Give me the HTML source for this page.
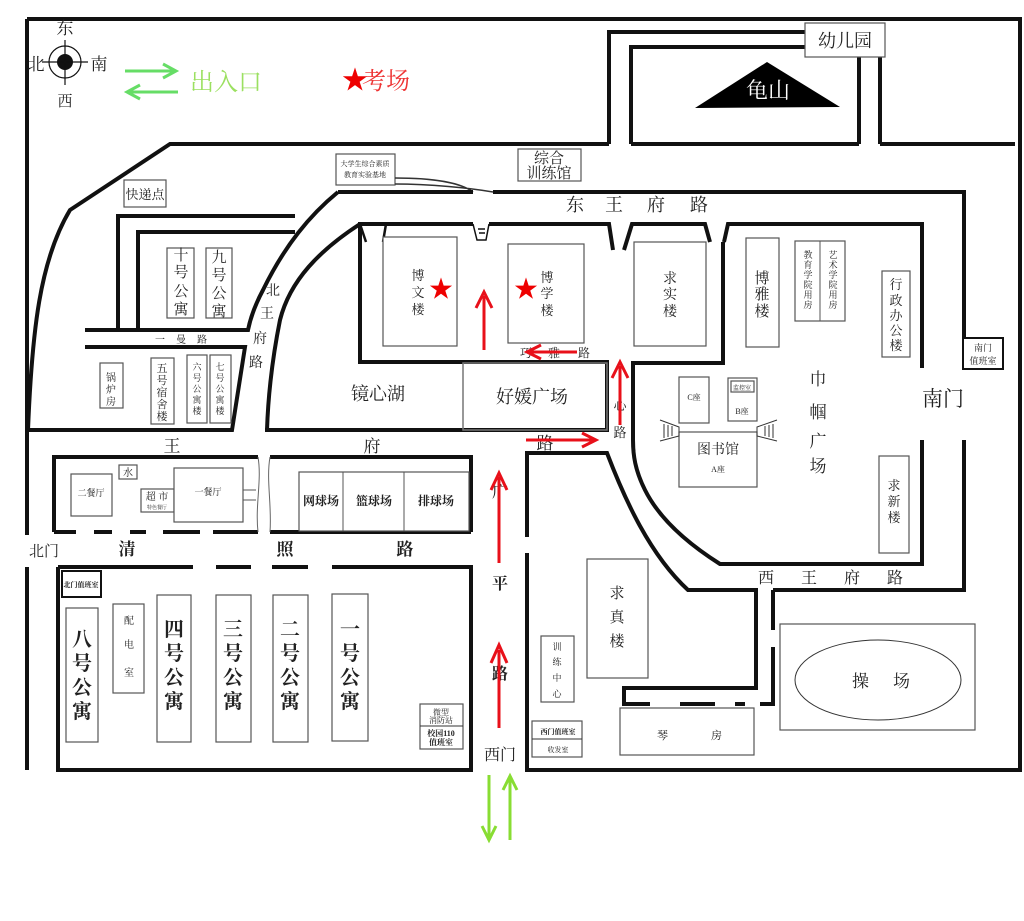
<!DOCTYPE html>
<html><head><meta charset="utf-8"><style>
html,body{margin:0;padding:0;background:#fff;}
svg{display:block;}
text{font-family:"Liberation Serif","Noto Serif CJK SC",serif;fill:#222;}
.t{stroke:#111;stroke-width:4;fill:none;}
.b{stroke:#555;stroke-width:1.2;fill:#fff;}
</style></head><body>
<svg width="1024" height="921" viewBox="0 0 1024 921" xmlns="http://www.w3.org/2000/svg">
<rect width="1024" height="921" fill="#fff"/>
<!-- outer border -->
<path class="t" d="M27 19 H1020 V770 H525 M27 19 V535 M27 567 V770"/>
<!-- compass -->
<circle cx="65" cy="62" r="16" fill="none" stroke="#111" stroke-width="1.2"/>
<circle cx="65" cy="62" r="8" fill="#111"/>
<path d="M42 62 H88 M65 40 V85" stroke="#111" stroke-width="1.2"/>
<text x="65" y="34" font-size="17" text-anchor="middle">东</text>
<text x="65" y="106" font-size="15" text-anchor="middle">西</text>
<text x="36" y="70" font-size="17" text-anchor="middle">北</text>
<text x="99" y="70" font-size="17" text-anchor="middle">南</text>
<!-- legend -->
<g stroke="#66dd66" stroke-width="3" fill="none">
<path d="M125 71 H175 M163 64 L176 71 L163 78"/>
<path d="M178 92 H128 M140 85 L127 92 L140 99"/>
</g>
<text x="190" y="90" font-size="24" fill="#9be060" style="fill:#9be060">出入口</text>
<text x="342" y="89" font-size="26" fill="#e00" style="fill:#e00">★</text>
<text x="362" y="89" font-size="24" style="fill:#e33">考场</text>
<!-- 龟山 region -->
<path class="t" d="M609 144 V32 H806 M631 144 V47 H806 M859 57 V144 M880 57 V144 M631 144 H859 M880 144 H1015"/>
<rect x="805" y="23" width="80" height="34" class="b"/>
<text x="845" y="47" font-size="18" text-anchor="middle">幼儿园</text>
<polygon points="767,62 695,108 840,107" fill="#000"/>
<text x="768" y="98" font-size="22" text-anchor="middle" style="fill:#fff">龟山</text>
<!-- big west loop -->
<path class="t" d="M28 430 C32 330 40 260 70 210 L170 144 H609"/>
<rect x="124" y="180" width="42" height="27" class="b" stroke="#999"/>
<text x="145" y="199" font-size="13" text-anchor="middle">快递点</text>
<rect x="336" y="154" width="59" height="31" class="b"/>
<text x="365" y="166" font-size="7" text-anchor="middle">大学生综合素质</text>
<text x="365" y="177" font-size="7" text-anchor="middle">教育实验基地</text>
<path d="M395 178 C430 178 460 182 473 192 M395 184 C430 184 470 188 493 192" stroke="#333" stroke-width="1.5" fill="none"/>
<rect x="518" y="149" width="63" height="32" class="b"/>
<text x="549" y="163" font-size="15" text-anchor="middle">综合</text>
<text x="549" y="178" font-size="15" text-anchor="middle">训练馆</text>
<!-- east road -->
<path class="t" d="M338 192 H473 M493 192 H964 V368 M964 440 V590 H773 M773 590 V630 M773 647 V704 H760"/>
<text x="566" y="211" font-size="18">东</text>
<text x="605" y="211" font-size="18">王</text>
<text x="647" y="211" font-size="18">府</text>
<text x="690" y="211" font-size="18">路</text>
<path class="t" d="M360 242 L360 224 H473 M489 224 H609 L613 250 M624 250 L632 224 H705 L710 242 M724 242 L728 224 H922 V368 M922 440 V564 H720 C690 545 660 520 645 490 C635 470 633 455 633 440 V363 H723 V242"/>
<path d="M360 224 L366 242 M383 242 L386 224" stroke="#111" stroke-width="2.5"/>
<path d="M473 224 L477 240 H486 L489 224 M478 229 H485 M479 233 H485" stroke="#111" stroke-width="1.5" fill="none"/>
<path class="t" d="M360 224 V362 H607 V430 H265"/>
<!-- 北王府路 curves -->
<path class="t" d="M338 192 C310 215 285 245 263 290 C255 305 250 320 248 330 H85 M85 347 H245 L232 430 H27"/>
<path class="t" d="M360 224 C320 250 290 280 280 320 C272 360 268 400 267 430"/>
<path class="t" d="M118 328 V216 H295 M138 328 V232 H295"/>
<text x="273" y="295" font-size="14" text-anchor="middle">北</text>
<text x="267" y="318" font-size="14" text-anchor="middle">王</text>
<text x="260" y="343" font-size="14" text-anchor="middle">府</text>
<text x="256" y="367" font-size="14" text-anchor="middle">路</text>
<rect x="167" y="248" width="27" height="70" class="b"/>
<text font-size="15" text-anchor="middle"><tspan x="181" y="260">十</tspan><tspan x="181" y="277">号</tspan><tspan x="181" y="296">公</tspan><tspan x="181" y="314">寓</tspan></text>
<rect x="206" y="248" width="26" height="70" class="b"/>
<text font-size="15" text-anchor="middle"><tspan x="219" y="262">九</tspan><tspan x="219" y="280">号</tspan><tspan x="219" y="298">公</tspan><tspan x="219" y="316">寓</tspan></text>
<text y="343" font-size="10"><tspan x="155">一</tspan><tspan x="176">曼</tspan><tspan x="197">路</tspan></text>
<rect x="100" y="363" width="23" height="45" class="b"/>
<text font-size="10" text-anchor="middle"><tspan x="111" y="381">锅</tspan><tspan x="111" y="393">炉</tspan><tspan x="111" y="405">房</tspan></text>
<rect x="151" y="358" width="23" height="66" class="b"/>
<text font-size="11" text-anchor="middle"><tspan x="162" y="372">五</tspan><tspan x="162" y="384">号</tspan><tspan x="162" y="396">宿</tspan><tspan x="162" y="408">舍</tspan><tspan x="162" y="420">楼</tspan></text>
<rect x="187" y="355" width="20" height="68" class="b"/>
<text font-size="9" text-anchor="middle"><tspan x="197" y="370">六</tspan><tspan x="197" y="381">号</tspan><tspan x="197" y="392">公</tspan><tspan x="197" y="403">寓</tspan><tspan x="197" y="414">楼</tspan></text>
<rect x="210" y="355" width="21" height="68" class="b"/>
<text font-size="9" text-anchor="middle"><tspan x="220" y="370">七</tspan><tspan x="220" y="381">号</tspan><tspan x="220" y="392">公</tspan><tspan x="220" y="403">寓</tspan><tspan x="220" y="414">楼</tspan></text>
<!-- central buildings -->
<rect x="383" y="237" width="74" height="109" class="b"/>
<text font-size="13" text-anchor="middle"><tspan x="418" y="280">博</tspan><tspan x="418" y="297">文</tspan><tspan x="418" y="314">楼</tspan></text>
<text x="441" y="297" font-size="24" text-anchor="middle" style="fill:#e00">★</text>
<rect x="508" y="244" width="76" height="99" class="b"/>
<text font-size="13" text-anchor="middle"><tspan x="547" y="282">博</tspan><tspan x="547" y="298">学</tspan><tspan x="547" y="315">楼</tspan></text>
<text x="526" y="297" font-size="24" text-anchor="middle" style="fill:#e00">★</text>
<rect x="634" y="242" width="72" height="104" class="b"/>
<text font-size="14" text-anchor="middle"><tspan x="670" y="283">求</tspan><tspan x="670" y="299">实</tspan><tspan x="670" y="316">楼</tspan></text>
<rect x="746" y="238" width="33" height="109" class="b"/>
<text font-size="15" text-anchor="middle"><tspan x="762" y="283">博</tspan><tspan x="762" y="299">雅</tspan><tspan x="762" y="316">楼</tspan></text>
<rect x="795" y="241" width="50" height="80" class="b"/><path d="M820 241 V321" stroke="#555"/>
<text font-size="9" text-anchor="middle"><tspan x="808" y="258">教</tspan><tspan x="808" y="268">育</tspan><tspan x="808" y="278">学</tspan><tspan x="808" y="288">院</tspan><tspan x="808" y="298">用</tspan><tspan x="808" y="308">房</tspan></text>
<text font-size="9" text-anchor="middle"><tspan x="833" y="258">艺</tspan><tspan x="833" y="268">术</tspan><tspan x="833" y="278">学</tspan><tspan x="833" y="288">院</tspan><tspan x="833" y="298">用</tspan><tspan x="833" y="308">房</tspan></text>
<rect x="882" y="271" width="28" height="86" class="b"/>
<text font-size="13" text-anchor="middle"><tspan x="896" y="289">行</tspan><tspan x="896" y="305">政</tspan><tspan x="896" y="320">办</tspan><tspan x="896" y="335">公</tspan><tspan x="896" y="350">楼</tspan></text>
<rect x="963" y="338" width="40" height="31" fill="#fff" stroke="#111" stroke-width="2"/>
<text x="983" y="351" font-size="9" text-anchor="middle">南门</text>
<text x="983" y="364" font-size="9" text-anchor="middle">值班室</text>
<text x="943" y="406" font-size="21" text-anchor="middle">南门</text>
<text font-size="17" text-anchor="middle"><tspan x="818" y="385">巾</tspan><tspan x="818" y="418">帼</tspan><tspan x="818" y="447">广</tspan><tspan x="818" y="472">场</tspan></text>
<rect x="679" y="377" width="30" height="46" class="b"/><text x="694" y="400" font-size="8" text-anchor="middle">C座</text>
<rect x="728" y="378" width="29" height="43" class="b"/><rect x="731" y="381" width="23" height="11" class="b"/>
<text x="742" y="390" font-size="6" text-anchor="middle">监控室</text><text x="742" y="414" font-size="8" text-anchor="middle">B座</text>
<rect x="679" y="432" width="78" height="55" class="b"/>
<text x="718" y="454" font-size="14" text-anchor="middle">图书馆</text>
<text x="718" y="472" font-size="8" text-anchor="middle">A座</text>
<path d="M660 420 L679 427 V436 L660 441 M664 424 V438 M668 425 V437 M672 426 V436 M777 420 L757 427 V436 L777 441 M773 424 V438 M769 425 V437 M765 426 V436" stroke="#333" fill="none"/>
<rect x="879" y="456" width="30" height="97" class="b"/>
<text font-size="13" text-anchor="middle"><tspan x="894" y="490">求</tspan><tspan x="894" y="506">新</tspan><tspan x="894" y="522">楼</tspan></text>
<rect x="463" y="363" width="144" height="67" fill="none" stroke="#777" stroke-width="1.5"/>
<text x="532" y="403" font-size="18" text-anchor="middle">好媛广场</text>
<text x="378" y="400" font-size="18" text-anchor="middle">镜心湖</text>
<text x="172" y="452" font-size="17" text-anchor="middle">王</text>
<text x="372" y="452" font-size="17" text-anchor="middle">府</text>
<text x="545" y="449" font-size="17" text-anchor="middle">路</text>
<text y="357" font-size="12"><tspan x="520">巧</tspan><tspan x="548">雅</tspan><tspan x="578">路</tspan></text>
<text font-size="13" text-anchor="middle"><tspan x="620" y="410">心</tspan><tspan x="620" y="437">路</tspan></text>
<!-- west block -->
<path class="t" d="M54 532 V457 H258 M270 457 H471 V532 M471 532 H270 M258 532 H213 M200 532 H163 M146 532 H130 M112 532 H94 M76 532 H54"/>
<path d="M258 457 C262 480 255 505 258 532 M270 457 C266 480 272 505 270 532" stroke="#666" fill="none"/>
<rect x="71" y="474" width="41" height="42" class="b"/><text x="91" y="496" font-size="9" text-anchor="middle">二餐厅</text>
<rect x="119" y="465" width="18" height="14" class="b"/><text x="128" y="476" font-size="10" text-anchor="middle">水</text>
<rect x="141" y="489" width="33" height="23" class="b"/><text x="157" y="500" font-size="10" text-anchor="middle">超 市</text><text x="157" y="509" font-size="5" text-anchor="middle">特色餐厅</text>
<rect x="174" y="468" width="69" height="54" class="b"/><text x="208" y="495" font-size="9" text-anchor="middle">一餐厅</text>
<path d="M243 490 H256 M243 500 H256" stroke="#555"/>
<rect x="299" y="472" width="170" height="59" class="b"/><path d="M343 472 V531 M404 472 V531" stroke="#555"/>
<text x="321" y="505" font-size="12" font-weight="bold" text-anchor="middle">网球场</text>
<text x="374" y="505" font-size="12" font-weight="bold" text-anchor="middle">篮球场</text>
<text x="436" y="505" font-size="12" font-weight="bold" text-anchor="middle">排球场</text>
<text x="44" y="556" font-size="15" text-anchor="middle">北门</text>
<text x="127" y="555" font-size="17" font-weight="bold" text-anchor="middle">清</text>
<text x="285" y="555" font-size="17" font-weight="bold" text-anchor="middle">照</text>
<text x="405" y="555" font-size="17" font-weight="bold" text-anchor="middle">路</text>
<path class="t" d="M58 567 H193 M216 567 H251 M272 567 H308 M332 567 H471 V770 H58 V567"/>
<rect x="62" y="571" width="39" height="26" fill="#fff" stroke="#111" stroke-width="2"/>
<text x="81" y="587" font-size="7" font-weight="bold" text-anchor="middle">北门值班室</text>
<rect x="66" y="608" width="32" height="134" class="b"/>
<text font-size="20" font-weight="bold" text-anchor="middle"><tspan x="82" y="646">八</tspan><tspan x="82" y="670">号</tspan><tspan x="82" y="694">公</tspan><tspan x="82" y="718">寓</tspan></text>
<rect x="113" y="604" width="31" height="89" class="b"/>
<text font-size="10" text-anchor="middle"><tspan x="129" y="624">配</tspan><tspan x="129" y="648">电</tspan><tspan x="129" y="676">室</tspan></text>
<g font-size="20" font-weight="bold" text-anchor="middle">
<rect x="157" y="595" width="34" height="147" class="b"/><text><tspan x="174" y="636">四</tspan><tspan x="174" y="660">号</tspan><tspan x="174" y="684">公</tspan><tspan x="174" y="708">寓</tspan></text>
<rect x="216" y="595" width="35" height="147" class="b"/><text><tspan x="233" y="636">三</tspan><tspan x="233" y="660">号</tspan><tspan x="233" y="684">公</tspan><tspan x="233" y="708">寓</tspan></text>
<rect x="273" y="595" width="35" height="147" class="b"/><text><tspan x="290" y="636">二</tspan><tspan x="290" y="660">号</tspan><tspan x="290" y="684">公</tspan><tspan x="290" y="708">寓</tspan></text>
<rect x="332" y="594" width="36" height="147" class="b"/><text><tspan x="350" y="636">一</tspan><tspan x="350" y="660">号</tspan><tspan x="350" y="684">公</tspan><tspan x="350" y="708">寓</tspan></text>
</g>
<rect x="420" y="704" width="43" height="45" class="b" stroke="#333"/><path d="M420 726 H463" stroke="#333"/>
<text x="441" y="715" font-size="8" text-anchor="middle">微型</text><text x="441" y="723" font-size="8" text-anchor="middle">消防站</text>
<text x="441" y="736" font-size="8" font-weight="bold" text-anchor="middle">校园110</text><text x="441" y="745" font-size="8" font-weight="bold" text-anchor="middle">值班室</text>
<!-- 平路 -->
<text x="500" y="497" font-size="16" text-anchor="middle">广</text>
<text x="500" y="589" font-size="16" font-weight="bold" text-anchor="middle">平</text>
<text x="500" y="679" font-size="16" font-weight="bold" text-anchor="middle">路</text>
<text x="500" y="760" font-size="16" text-anchor="middle">西门</text>
<!-- south-west block -->
<path class="t" d="M527 770 V553 M527 537 V453 H607 C625 500 650 555 688 590 H756 V688 H624 V704 H650 M680 704 H715 M735 704 H745"/>
<rect x="587" y="559" width="61" height="119" class="b" stroke="#333" stroke-width="2"/>
<text font-size="15" text-anchor="middle"><tspan x="617" y="598">求</tspan><tspan x="617" y="622">真</tspan><tspan x="617" y="646">楼</tspan></text>
<rect x="541" y="636" width="33" height="66" class="b"/>
<text font-size="9" text-anchor="middle"><tspan x="557" y="650">训</tspan><tspan x="557" y="665">练</tspan><tspan x="557" y="681">中</tspan><tspan x="557" y="697">心</tspan></text>
<rect x="532" y="721" width="50" height="36" class="b" stroke="#333"/><path d="M532 739 H582" stroke="#333"/>
<text x="558" y="734" font-size="7" font-weight="bold" text-anchor="middle">西门值班室</text>
<text x="558" y="752" font-size="7" text-anchor="middle">收发室</text>
<rect x="620" y="708" width="134" height="47" class="b"/>
<text x="657" y="739" font-size="11">琴</text><text x="711" y="739" font-size="11">房</text>
<text y="583" font-size="16"><tspan x="758">西</tspan><tspan x="801">王</tspan><tspan x="844">府</tspan><tspan x="887">路</tspan></text>
<rect x="780" y="624" width="195" height="106" class="b"/>
<ellipse cx="878" cy="680" rx="83" ry="40" fill="none" stroke="#333"/>
<text x="852" y="687" font-size="17">操</text><text x="893" y="687" font-size="17">场</text>
<!-- red arrows -->
<g stroke="#e8101a" stroke-width="3" fill="none">
<path d="M484 350 V296 M476 308 L484 292 L492 308"/>
<path d="M577 352 H530 M541 345 L527 352 L541 359"/>
<path d="M620 425 V366 M612 378 L620 362 L628 378"/>
<path d="M526 440 H594 M582 433 L596 440 L582 447"/>
<path d="M499 563 V477 M491 490 L499 473 L507 490"/>
<path d="M499 728 V650 M491 663 L499 645 L507 663"/>
</g>
<!-- green arrows -->
<g stroke="#88dd33" stroke-width="3" fill="none">
<path d="M489 775 V838 M482 826 L489 840 L496 826"/>
<path d="M510 840 V778 M503 790 L510 776 L517 790"/>
</g>
</svg>
</body></html>
